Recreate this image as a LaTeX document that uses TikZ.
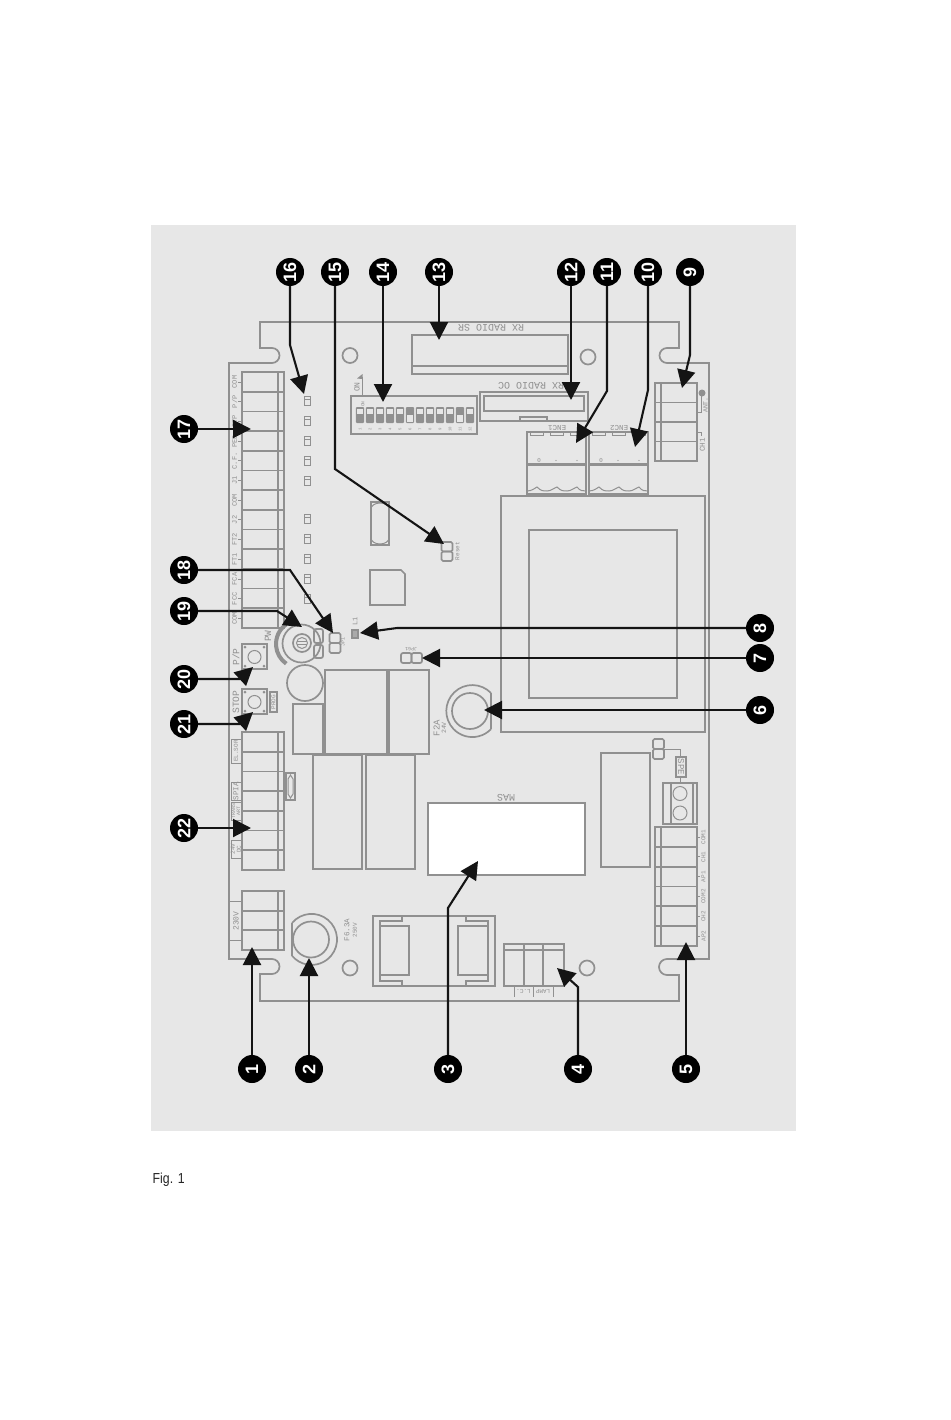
\documentclass[tikz,border=0pt]{standalone}
\usepackage{fontspec}
\setmainfont{Liberation Sans}
\newfontfamily\boardfont{Liberation Mono}
\usetikzlibrary{arrows.meta}
\definecolor{panel}{HTML}{E7E7E7}
\definecolor{pcb}{HTML}{909090}
\newcommand{\mono}[1]{\boardfont\fontsize{#1}{#1}\selectfont}
\tikzset{
  pcbline/.style={draw=pcb,line width=1.7pt},
  thinline/.style={draw=pcb,line width=1pt},
  wideline/.style={draw=pcb,line width=3pt},
  legend/.style={text=pcb,inner sep=0pt,font=\mono{7}},
  side legend/.style={legend,rotate=90},
  flip legend/.style={legend,rotate=180},
  badge/.style={circle,fill=black,text=white,inner sep=0pt,minimum size=28pt,
    font=\bfseries\fontsize{18}{18}\selectfont,rotate=90},
  callout/.style={draw=black!92,line width=2.1pt,-{Triangle[width=18pt,length=18pt]}},
}
\newcommand{\blockv}[6]{%
  \draw[pcbline] (#1,#3) rectangle (#2,#4);
  \draw[pcbline] (#5,#3) -- (#5,#4);
  \pgfmathsetmacro{\cellh}{(#4-#3)/#6}
  \pgfmathtruncatemacro{\lastc}{#6-1}
  \foreach \i in {1,...,\lastc}{\draw[pcbline] (#1,{#3+\i*\cellh}) -- (#2,{#3+\i*\cellh});}
}
\newcommand{\jumperv}[3]{%
  \draw[pcbline,rounded corners=1.5pt] ({#1-5.5},#2) rectangle ({#1+5.5},{#2+#3});
  \draw[pcbline,rounded corners=1.5pt] ({#1-5.5},{#2+#3}) rectangle ({#1+5.5},{#2+2*#3});
}
\begin{document}
\begin{tikzpicture}[x=1pt,y=-1pt]
\useasboundingbox (0,0) rectangle (950,1420);
\fill[white] (0,0) rectangle (950,1420);
\fill[panel] (151,225) rectangle (796,1131);

% board outline (angles read in the y-down system)
\draw[pcbline] (260,322) -- (260,348) -- (272,348) arc[start angle=-90,end angle=90,radius=7.5]
  -- (229,363) -- (229,959) -- (272,959) arc[start angle=-90,end angle=90,radius=7.5]
  -- (260,974) -- (260,1001) -- (679,1001) -- (679,975) -- (667,975)
  arc[start angle=90,end angle=270,radius=8] -- (709,959) -- (709,363) -- (667,363)
  arc[start angle=90,end angle=270,radius=7.5] -- (679,348) -- (679,322) -- cycle;
\foreach \hx/\hy in {350/355.5,588/357,350/968,587/968}{\draw[pcbline] (\hx,\hy) circle[radius=7.5];}

% left terminal block
\blockv{242}{284}{372}{628}{278}{13}
\foreach \i/\t in {0/COM,1/{P/P},2/STP,3/PED,4/C.F.,5/J1,6/COM,7/J2,8/FT2,9/FT1,10/FCA,11/FCC,12/COM}{
  \node[side legend,font=\mono{7}] at (234.5,{382+\i*19.7}) {\t};
  \draw[thinline] (238,{382+\i*19.7}) -- (242,{382+\i*19.7});
}
% LEDs
\foreach \ly in {401,421,441,461,481,519,539,559,579,599}{
  \draw[pcbline] (304.5,\ly-4.5) rectangle (310.5,\ly+4.5);
  \draw[thinline] (304.5,\ly-1.5) -- (310.5,\ly-1.5);
}
% dip switch
\draw[pcbline] (351,396) rectangle (477,434);
\foreach \i in {1,...,12}{
  \pgfmathsetmacro{\sx}{350+\i*10}
  \fill[pcb,rounded corners=1pt] (\sx-4.2,407) rectangle (\sx+4.2,423);
  \node[side legend,font=\mono{4}] at (\sx,429.5) {\i};
}
\foreach \i in {1,2,3,4,5,7,8,9,10,12}{
  \pgfmathsetmacro{\sx}{350+\i*10}
  \fill[panel] (\sx-2.6,408.5) rectangle (\sx+2.6,414);
}
\foreach \i in {6,11}{
  \pgfmathsetmacro{\sx}{350+\i*10}
  \fill[panel] (\sx-2.6,415) rectangle (\sx+2.6,421.5);
}
\node[side legend,font=\mono{4.5}] at (363,404) {ON};
\node[side legend,font=\mono{8}] at (357,387) {ON};
\draw[thinline] (362,377) -- (362,396);
\fill[pcb] (362.5,374) -- (362.5,379) -- (357,378.5) -- cycle;

% crystal, chip, reset
\draw[pcbline] (371,502) rectangle (389,545);
\draw[thinline] (371,509) arc[start angle=180,end angle=360,x radius=9,y radius=6];
\draw[thinline] (371,538) arc[start angle=180,end angle=0,x radius=9,y radius=6];
\draw[pcbline] (370,570) -- (401,570) -- (405,574) -- (405,605) -- (370,605) -- cycle;
\jumperv{447}{542}{9.5}
\node[side legend,font=\mono{6}] at (457.5,551) {Reset};

% radio connectors
\draw[pcbline] (412,335) rectangle (568,374);
\draw[pcbline] (412,366) -- (568,366);
\node[flip legend,font=\mono{10}] at (491,327.5) {RX RADIO SR};
\draw[pcbline] (480,392) rectangle (588,421);
\draw[pcbline] (484,396) rectangle (584,411);
\draw[pcbline] (520,421) -- (520,417) -- (547,417) -- (547,421);
\node[flip legend,font=\mono{10}] at (531,386) {RX RADIO OC};

% encoders
\foreach \ex/\et in {527/ENC1,589/ENC2}{
  \draw[pcbline] (\ex,432) rectangle (\ex+59,494);
  \draw[wideline] (\ex,464) -- (\ex+59,464);
  \draw[thinline] (\ex,491) .. controls (\ex+5,491) and (\ex+8,488) .. (\ex+10,487)
     .. controls (\ex+14,491) and (\ex+16,491) .. (\ex+20,491)
     .. controls (\ex+24,491) and (\ex+27,488) .. (\ex+30,487)
     .. controls (\ex+34,491) and (\ex+36,491) .. (\ex+40,491)
     .. controls (\ex+44,491) and (\ex+47,488) .. (\ex+50,487)
     .. controls (\ex+53,491) and (\ex+56,491) .. (\ex+59,491);
  \foreach \tx in {3,23,43}{\draw[thinline] (\ex+\tx,432) rectangle (\ex+\tx+13,435);}
  \node[flip legend,font=\mono{7.5}] at (\ex+30,427.5) {\et};
  \node[flip legend,font=\mono{6}] at (\ex+12,460) {0};
  \fill[pcb] (\ex+29,460.5) circle[radius=.7] (\ex+50,460.5) circle[radius=.7];
}

% terminal 9
\blockv{655}{697}{383}{461}{661}{4}
\fill[pcb] (702,393) circle[radius=3.5];
\draw[thinline] (701,396) -- (701,412) -- (697,412);
\draw[thinline] (697,432) -- (701,432) -- (701,436);
\node[side legend,font=\mono{6.5}] at (705.5,405) {ANT.};
\node[side legend,font=\mono{7.5}] at (702.5,445) {CH1};

% transformer
\draw[pcbline] (501,496) rectangle (705,732);
\draw[pcbline] (529,530) rectangle (677,698);

% trimmer and switches
\draw[pcb,line width=4pt] ({300+24*cos(235)},{644+24*sin(235)}) arc[start angle=235,end angle=125,radius=24];
\draw[pcbline] (301.5,643.5) circle[radius=19];
\draw[pcbline] (302,643) circle[radius=9];
\draw[thinline] (302,643) circle[radius=5.5];
\draw[thinline] (297,641.5) -- (307,641.5) (297,644.5) -- (307,644.5);
\draw[pcbline,rounded corners=2pt] (314,629) rectangle (323,643);
\draw[pcbline,rounded corners=2pt] (314,645) rectangle (323,658);
\jumperv{335}{633}{10}
\node[side legend,font=\mono{5}] at (343,642) {JP1};
\node[side legend,font=\mono{9.5}] at (268,636) {PW};
\draw[draw=pcb,fill=pcb!70!panel,line width=1.2pt] (352,630) rectangle (358,638);
\node[side legend,font=\mono{7}] at (355,621) {L1};
\draw[pcbline,rounded corners=2pt] (401,653) rectangle (411.5,663);
\draw[pcbline,rounded corners=2pt] (411.5,653) rectangle (422,663);
\node[flip legend,font=\mono{5}] at (411,649) {JP61};

\foreach \by/\bt in {644/{P/P},689/{STOP}}{
  \draw[pcbline] (242,\by) rectangle (267,\by+25);
  \draw[thinline] (254.5,\by+13) circle[radius=6.5];
  \foreach \dx/\dy in {3/3,22/3,3/22,22/22}{\fill[pcb] (242+\dx,\by+\dy) circle[radius=1.5];}
  \node[side legend,font=\mono{9.6}] at (236,\by+13) {\bt};
}
\draw[pcbline] (270,692) rectangle (277,712);
\node[side legend,font=\mono{6}] at (273.5,702) {PROG};

% large components
\draw[pcbline] (305,683) circle[radius=18];
\draw[pcbline] (325,670) rectangle (387,754);
\draw[pcbline] (389,670) rectangle (429,754);
\draw[pcbline] (293,704) rectangle (323,754);
\draw[pcbline] (313,755) rectangle (362,869);
\draw[pcbline] (366,755) rectangle (415,869);

% F2A fuse
\draw[pcbline] (491,693) arc[start angle=-44,end angle=-316,radius=26];
\draw[pcbline] (491,693) -- (491,729);
\draw[pcbline] (470,711) circle[radius=18];
\node[side legend,font=\mono{9}] at (436.5,728) {F2A};
\node[side legend,font=\mono{6.5}] at (444,728) {24V};

% terminal 22
\blockv{242}{284}{732}{870}{278}{7}
\draw[thinline] (241,739) -- (231,739) -- (231,763) -- (241,763);
\node[side legend,font=\mono{6}] at (236,751) {EL.SOR};
\draw[thinline] (241,782) -- (231,782) -- (231,800) -- (241,800);
\node[side legend,font=\mono{7.5}] at (236,791) {SPIA};
\draw[thinline] (241,802) -- (231,802) -- (231,820) -- (241,820);
\node[side legend,align=center,font=\mono{5}] at (236,811) {TRANS\\ART};
\draw[thinline] (241,840) -- (231,840) -- (231,858) -- (241,858);
\node[side legend,align=center,font=\mono{6}] at (236,849) {24V\\DC};
\draw[pcbline] (286,773) rectangle (295,800);
\draw[thinline] (290.5,775) -- (293,779) -- (293,794) -- (290.5,798) -- (288,794) -- (288,779) -- cycle;

% terminal 230V
\blockv{242}{284}{891}{950}{278}{3}
\node[side legend,font=\mono{8}] at (236,921) {230V};
\draw[thinline] (229,901) -- (242,901) (229,940) -- (242,940);

% F6.3A fuse
\draw[pcbline] (292,923) arc[start angle=220,end angle=500,radius=25.5];
\draw[pcbline] (292,923) -- (292,956);
\draw[pcbline] (311,939.5) circle[radius=18];
\node[side legend,font=\mono{7.5}] at (347,930) {F6.3A};
\node[side legend,font=\mono{6}] at (355,930) {250V};

% relay
\draw[pcbline] (373,916) rectangle (495,986);
\draw[pcbline] (380,926) rectangle (409,975);
\draw[pcbline] (458,926) rectangle (488,975);
\draw[pcbline] (380,926) -- (380,921) -- (402,921) -- (402,916);
\draw[pcbline] (380,975) -- (380,981) -- (402,981) -- (402,986);
\draw[pcbline] (488,926) -- (488,921) -- (466,921) -- (466,916);
\draw[pcbline] (488,975) -- (488,981) -- (466,981) -- (466,986);

% MAS
\draw[pcbline,fill=white] (428,803) rectangle (585,875);
\node[flip legend,font=\mono{10}] at (506,797.5) {MAS};

% right side
\draw[pcbline] (601,753) rectangle (650,867);
\jumperv{658.5}{739}{10}
\draw[thinline] (664,749) -- (680,749) -- (680,757);
\draw[pcbline] (676,757) rectangle (686,777);
\node[legend,rotate=-90,font=\mono{9}] at (681,767) {SPE};
\draw[thinline] (680,777) -- (680,783);
\draw[pcbline] (663,783) rectangle (697,824);
\draw[pcbline] (671,783) -- (671,824) (693,783) -- (693,824);
\draw[thinline] (680,793.5) circle[radius=7] (680,813) circle[radius=7];
\blockv{655}{697}{827}{946}{661}{6}
\foreach \i/\t in {0/COM1,1/CH1,2/AP1,3/COM2,4/CH2,5/AP2}{
  \node[side legend,font=\mono{6}] at (703.5,{837+\i*19.8}) {\t};
  \draw[thinline] (697,{837+\i*19.8}) -- (700,{837+\i*19.8});
}

% lamp terminal
\draw[pcbline] (504,944) rectangle (564,986);
\draw[pcbline] (504,950) -- (564,950) (524,944) -- (524,986) (543,944) -- (543,986);
\draw[thinline] (514,987) -- (514,997) (533,987) -- (533,997) (553,987) -- (553,997);
\node[flip legend,font=\mono{6}] at (523.5,991) {L.C.};
\node[flip legend,font=\mono{6}] at (543,991) {LAMP};

% callouts
\foreach \n/\bx/\by in {1/252/1069,2/309/1069,3/448/1069,4/578/1069,5/686/1069,
  6/760/710,7/760/658,8/760/628,9/690/272,10/648/272,11/607/272,12/571/272,
  13/439/272,14/383/272,15/335/272,16/290/272,
  17/184/429,18/184/570,19/184/611,20/184/679,21/184/724,22/184/828}{
  \node[badge] (b\n) at (\bx,\by) {\n};
}
\coordinate (t1) at (252,947);
\coordinate (t2) at (309,958);
\coordinate (k3) at (448,908); \coordinate (t3) at (478,861);
\coordinate (k4) at (578,987); \coordinate (t4) at (557,968);
\coordinate (t5) at (686,942);
\coordinate (t6) at (484,710);
\coordinate (t7) at (422,658);
\coordinate (k8) at (397,628); \coordinate (t8) at (360,633);
\coordinate (k9) at (690,355); \coordinate (t9) at (682,388);
\coordinate (k10) at (648,390); \coordinate (t10) at (635,447);
\coordinate (k11) at (607,391); \coordinate (t11) at (576,443);
\coordinate (t12) at (571,400);
\coordinate (t13) at (439,340);
\coordinate (t14) at (383,402);
\coordinate (k15) at (335,469); \coordinate (t15) at (444,544);
\coordinate (k16) at (290,345); \coordinate (t16) at (304,394);
\coordinate (t17) at (251,429);
\coordinate (k18) at (290,570); \coordinate (t18) at (333,633);
\coordinate (k19) at (277,611); \coordinate (t19) at (302,627);
\coordinate (k20) at (240,679); \coordinate (t20) at (253,667);
\coordinate (k21) at (240,724); \coordinate (t21) at (253,712);
\coordinate (t22) at (251,828);
\foreach \n in {1,2,5,6,7,12,13,14,17,22}{\draw[callout] (b\n) -- (t\n);}
\foreach \n in {3,4,8,9,10,11,15,16,18,19,20,21}{\draw[callout] (b\n) -- (k\n) -- (t\n);}

\node[anchor=west,inner sep=0pt,font=\fontsize{14.5}{16}\selectfont,text=black!85] (figcap) at (152.5,1179.5) {\scalebox{0.85}[1]{Fig. 1}};
\end{tikzpicture}
\end{document}
